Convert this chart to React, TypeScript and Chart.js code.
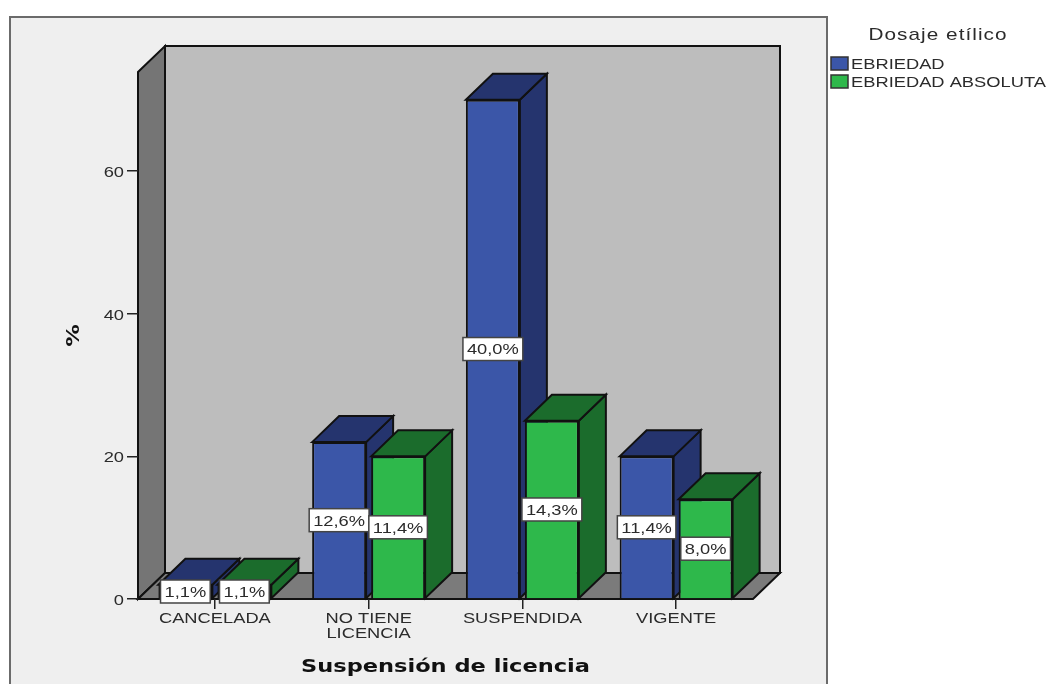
import React, { useEffect, useRef } from "react";
import { Chart, registerables } from "chart.js";

Chart.register(...registerables);

const categories = ["CANCELADA", ["NO TIENE", "LICENCIA"], "SUSPENDIDA", "VIGENTE"];
const legendTitle = "Dosaje etílico";
const seriesNames = ["EBRIEDAD", "EBRIEDAD ABSOLUTA"];
const ebriedad = [2, 22, 70, 20];
const ebriedadAbsoluta = [2, 20, 25, 14];
const ebriedadLabels = ["1,1%", "12,6%", "40,0%", "11,4%"];
const absolutaLabels = ["1,1%", "11,4%", "14,3%", "8,0%"];
const valueLabels = [ebriedadLabels, absolutaLabels];
const yTicks = [0, 20, 40, 60];
const yMax = 73.9;

const frontColors = ["#3b56a8", "#2eb84b"];
const sideColors = ["#25346e", "#1b6c2c"];
const DX = 27;
const DY = 26;
const STRETCH = 1.22;
const BOLD_STRETCH = 1.25;
const TEXT = "#2b2b2b";
const SANS = "'Liberation Sans', Arial, sans-serif";

function poly(ctx: any, pts: number[][], fill: string, lw = 2) {
  ctx.beginPath();
  pts.forEach((p, i) => (i ? ctx.lineTo(p[0], p[1]) : ctx.moveTo(p[0], p[1])));
  ctx.closePath();
  ctx.fillStyle = fill;
  ctx.fill();
  ctx.lineWidth = lw;
  ctx.lineJoin = "miter";
  ctx.strokeStyle = "#111";
  ctx.stroke();
}

const stage3d = {
  id: "stage3d",
  beforeInit(chart: any) {
    const ctx = chart.ctx;
    const original = ctx.fillText.bind(ctx);
    ctx.fillText = (text: string, x: number, y: number) => {
      ctx.save();
      ctx.translate(x, y + 1.8);
      ctx.scale(String(ctx.font).includes("bold") ? BOLD_STRETCH : STRETCH, 1);
      original(text, 0, 0);
      ctx.restore();
    };
  },
  beforeDraw(chart: any) {
    const { ctx, chartArea: a } = chart;
    ctx.save();
    ctx.fillStyle = "#fff";
    ctx.fillRect(0, 0, chart.width, chart.height);
    ctx.fillStyle = "#efefef";
    ctx.fillRect(10, 17, 817, chart.height - 17);
    ctx.strokeStyle = "#6b6b6b";
    ctx.lineWidth = 2;
    ctx.beginPath();
    ctx.moveTo(10, chart.height);
    ctx.lineTo(10, 17);
    ctx.lineTo(827, 17);
    ctx.lineTo(827, chart.height);
    ctx.stroke();
    poly(ctx, [[a.left + DX, a.top - DY], [a.right + DX, a.top - DY], [a.right + DX, a.bottom - DY], [a.left + DX, a.bottom - DY]], "#bdbdbd");
    poly(ctx, [[a.left, a.top], [a.left + DX, a.top - DY], [a.left + DX, a.bottom - DY], [a.left, a.bottom]], "#757575");
    poly(ctx, [[a.left, a.bottom], [a.left + DX, a.bottom - DY], [a.right + DX, a.bottom - DY], [a.right, a.bottom]], "#7b7b7b");
    ctx.restore();
  },
  beforeDatasetsDraw(chart: any) {
    const { ctx } = chart;
    ctx.save();
    categories.forEach((_, i) => {
      [0, 1].forEach((d) => {
        const bar = chart.getDatasetMeta(d).data[i];
        const l = bar.x - bar.width / 2;
        const r = bar.x + bar.width / 2;
        const t = bar.y;
        const b = bar.base;
        poly(ctx, [[r, t], [r + DX, t - DY], [r + DX, b - DY], [r, b]], sideColors[d]);
        poly(ctx, [[l, t], [l + DX, t - DY], [r + DX, t - DY], [r, t]], sideColors[d]);
      });
    });
    ctx.restore();
  },
  afterDatasetsDraw(chart: any) {
    const { ctx } = chart;
    ctx.save();
    ctx.font = `15px ${SANS}`;
    ctx.textAlign = "center";
    ctx.textBaseline = "middle";
    [0, 1].forEach((d) => {
      chart.getDatasetMeta(d).data.forEach((bar: any, i: number) => {
        const text = valueLabels[d][i];
        const w = ctx.measureText(text).width * STRETCH + 8;
        const h = 23;
        const cy = (bar.y + bar.base) / 2;
        ctx.fillStyle = "#fff";
        ctx.fillRect(bar.x - w / 2, cy - h / 2, w, h);
        ctx.strokeStyle = "#444";
        ctx.lineWidth = 1.5;
        ctx.strokeRect(bar.x - w / 2, cy - h / 2, w, h);
        ctx.fillStyle = TEXT;
        ctx.fillText(text, bar.x, cy - 0.5);
      });
    });
    ctx.restore();
  },
  afterDraw(chart: any) {
    const { ctx } = chart;
    ctx.save();
    ctx.fillStyle = TEXT;
    ctx.textBaseline = "middle";
    ctx.textAlign = "center";
    ctx.font = `17px ${SANS}`;
    ctx.letterSpacing = "0.85px";
    ctx.fillText(legendTitle, 938, 34);
    ctx.letterSpacing = "0px";
    ctx.font = `15px ${SANS}`;
    ctx.textAlign = "left";
    seriesNames.forEach((name, i) => {
      const y = 57 + i * 18;
      ctx.fillStyle = frontColors[i];
      ctx.strokeStyle = "#333";
      ctx.lineWidth = 1.5;
      ctx.fillRect(831, y, 17, 13);
      ctx.strokeRect(831, y, 17, 13);
      ctx.fillStyle = TEXT;
      ctx.fillText(name, 851, y + 6);
    });
    ctx.restore();
  },
};

export default function App() {
  const ref = useRef<HTMLCanvasElement>(null);
  useEffect(() => {
    const chart = new Chart(ref.current!, {
      type: "bar",
      data: {
        labels: categories as any,
        datasets: [ebriedad, ebriedadAbsoluta].map((data, d) => ({
          label: seriesNames[d],
          data,
          backgroundColor: frontColors[d],
          borderColor: "#111",
          borderWidth: 2,
          categoryPercentage: 0.7675,
          barPercentage: 0.915,
        })),
      },
      options: {
        animation: false,
        responsive: false,
        layout: { padding: { left: 0, top: 72, right: 295, bottom: 0 } },
        plugins: { legend: { display: false }, tooltip: { enabled: false } },
        scales: {
          x: {
            afterFit: (s: any) => { s.height = 85; },
            grid: { display: true, drawOnChartArea: false, drawTicks: true, tickLength: 10, offset: false, tickColor: "#222", lineWidth: 1.5 },
            border: { display: false },
            ticks: { color: TEXT, font: { family: SANS, size: 15, lineHeight: "15px" as any }, padding: 1, maxRotation: 0, minRotation: 0, autoSkip: false },
            title: { display: true, text: "Suspensión de licencia", color: "#111", font: { family: "'DejaVu Sans'", size: 18, weight: "bold" }, padding: { top: 0, bottom: 8 } },
          },
          y: {
            min: 0,
            max: yMax,
            afterFit: (s: any) => { s.width = 138; },
            afterBuildTicks: (s: any) => { s.ticks = yTicks.map((value) => ({ value })); },
            grid: { display: true, drawOnChartArea: false, drawTicks: true, tickLength: 11, tickColor: "#222", lineWidth: 1.5 },
            border: { display: false },
            ticks: { color: TEXT, font: { family: SANS, size: 15 }, padding: 3, includeBounds: false },
            title: { display: true, text: "%", color: "#111", font: { family: "'DejaVu Sans'", size: 18, weight: "bold" }, padding: { top: 62, bottom: 0 } },
          },
        },
      },
      plugins: [stage3d],
    } as any);
    return () => chart.destroy();
  }, []);
  return (
    <div style={{ position: "fixed", left: 0, top: 0 }}>
      <canvas ref={ref} width={1048} height={684} style={{ display: "block" }} />
    </div>
  );
}
